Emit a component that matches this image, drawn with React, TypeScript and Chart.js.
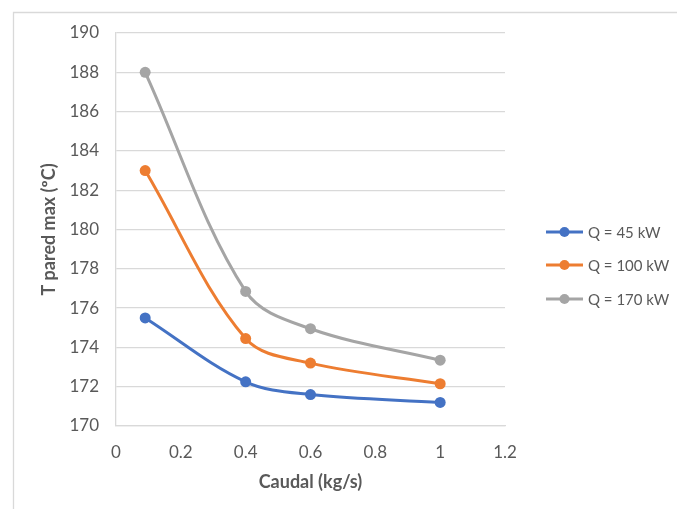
import React, { useEffect, useRef } from "react";
import { Chart, registerables } from "chart.js";

Chart.register(...registerables);

// Flow rate (kg/s) at which each run was taken
const caudal = [0.09, 0.4, 0.6, 1];

// Maximum wall temperature (ºC) for each heat load
const q45 = [175.5, 172.25, 171.6, 171.2];
const q100 = [183, 174.45, 173.2, 172.15];
const q170 = [188, 176.85, 174.95, 173.35];

const seriesLabels = ["Q = 45 kW", "Q = 100 kW", "Q = 170 kW"];
const seriesColors = ["#4472C4", "#ED7D31", "#A5A5A5"];

const yTitle = "T pared max (ºC)";
const xTitle = "Caudal (kg/s)";

const FONT = "Lato, 'Open Sans', sans-serif";
const TEXT = "#595959";
const GRID = "#d9d9d9";

const toPoints = (ys: number[]) => caudal.map((x, i) => ({ x, y: ys[i] }));

// Thin frame on the top and left edges of the chart box
const framePlugin = {
  id: "frame",
  beforeDraw(chart: Chart) {
    const ctx = chart.ctx;
    ctx.save();
    ctx.strokeStyle = GRID;
    ctx.lineWidth = 1.3;
    ctx.beginPath();
    ctx.moveTo(13.5, chart.height);
    ctx.lineTo(13.5, 12.5);
    ctx.lineTo(chart.width, 12.5);
    ctx.stroke();
    ctx.restore();
  },
};

// Legend on the right: short line with a round marker, then the label
const sideLegend = {
  id: "sideLegend",
  afterDraw(chart: Chart) {
    const ctx = chart.ctx;
    const x0 = 546;
    const x1 = 583;
    const rows = [232, 265, 299];
    ctx.save();
    chart.data.datasets.forEach((ds: any, i: number) => {
      const y = rows[i];
      ctx.strokeStyle = ds.borderColor;
      ctx.lineWidth = 3;
      ctx.beginPath();
      ctx.moveTo(x0, y);
      ctx.lineTo(x1, y);
      ctx.stroke();
      ctx.fillStyle = ds.borderColor;
      ctx.beginPath();
      ctx.arc((x0 + x1) / 2, y, 5, 0, Math.PI * 2);
      ctx.fill();
      ctx.fillStyle = TEXT;
      ctx.font = `15px ${FONT}`;
      ctx.textAlign = "left";
      ctx.textBaseline = "middle";
      ctx.fillText(ds.label, 588, y + 1);
    });
    ctx.restore();
  },
};

export default function App() {
  const canvasRef = useRef<HTMLCanvasElement | null>(null);

  useEffect(() => {
    if (!canvasRef.current) return;
    const makeSet = (i: number, ys: number[]) => ({
      label: seriesLabels[i],
      data: toPoints(ys),
      borderColor: seriesColors[i],
      backgroundColor: seriesColors[i],
      borderWidth: 3,
      pointRadius: 5.5,
      pointHoverRadius: 5.5,
      pointBorderWidth: 0,
      tension: 0.35,
      fill: false,
    });

    const chart = new Chart(canvasRef.current, {
      type: "line",
      data: {
        datasets: [makeSet(0, q45), makeSet(1, q100), makeSet(2, q170)],
      },
      options: {
        animation: false,
        responsive: true,
        maintainAspectRatio: false,
        layout: { padding: { top: 33, right: 172, bottom: 12, left: 35 } },
        plugins: {
          legend: { display: false },
          tooltip: { enabled: false },
        },
        scales: {
          x: {
            type: "linear",
            min: 0,
            max: 1.2,
            ticks: {
              stepSize: 0.2,
              padding: 16,
              color: TEXT,
              font: { family: FONT, size: 17 },
              callback: (v: any) => String(Number(Number(v).toFixed(1))),
            },
            grid: { color: "transparent", drawTicks: false },
            border: { display: true, color: GRID, width: 1.3 },
            title: {
              display: true,
              text: xTitle,
              color: TEXT,
              font: { family: FONT, size: 18, weight: "bold" },
              padding: { top: 4, bottom: 4 },
            },
            afterFit: (s: any) => {
              s.height = 71;
            },
          },
          y: {
            min: 170,
            max: 190,
            ticks: {
              stepSize: 2,
              padding: 17,
              color: TEXT,
              font: { family: FONT, size: 17 },
            },
            grid: { color: GRID, lineWidth: 1.3, drawTicks: false },
            border: { display: true, color: GRID, width: 1.3 },
            title: {
              display: true,
              text: yTitle,
              color: TEXT,
              font: { family: FONT, size: 18, weight: "bold" },
              padding: { top: 3, bottom: 3 },
            },
            afterFit: (s: any) => {
              s.width = 81;
            },
          },
        },
      },
      plugins: [framePlugin, sideLegend],
    });
    return () => chart.destroy();
  }, []);

  return (
    <div
      style={{
        position: "absolute",
        left: 0,
        top: 0,
        width: 677,
        height: 509,
        background: "#ffffff",
      }}
    >
      <canvas ref={canvasRef} />
    </div>
  );
}
